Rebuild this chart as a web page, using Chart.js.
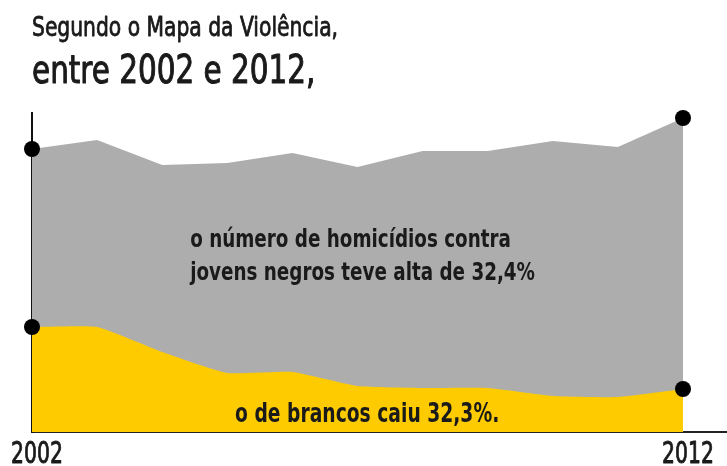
<!DOCTYPE html>
<html><head><meta charset="utf-8">
<script src="https://cdn.jsdelivr.net/npm/chart.js@4"></script>
<style>html,body{margin:0;padding:0;background:#fff}#wrap{width:727px;height:466px;position:relative}</style>
</head><body><div id="wrap"><canvas id="c"></canvas></div>
<script>
const years = [2002, 2003, 2004, 2005, 2006, 2007, 2008, 2009, 2010, 2011, 2012];
const negros = [283, 292, 267, 269, 279, 265, 281, 281, 291, 285, 314];
const brancos = [105, 105, 80, 59, 60, 46, 44, 44, 36, 35, 43];
const tickYears = [2002, 2012];
const titleLines = ['Segundo o Mapa da Violência,', 'entre 2002 e 2012,'];
const noteNegros = ['o número de homicídios contra', 'jovens negros teve alta de 32,4%'];
const noteBrancos = ['o de brancos caiu 32,3%.'];

const FONT = "'DejaVu Sans Condensed', 'DejaVu Sans', sans-serif";
const INK = '#1a1a1a';

const endDot = ctx => (ctx.dataIndex === 0 || ctx.dataIndex === years.length - 1) ? 8 : 0;

function drawText(ctx, str, x, y, size, weight, sx, align, thicken) {
  ctx.save();
  ctx.font = weight + ' ' + size + 'px ' + FONT;
  ctx.fillStyle = INK;
  ctx.strokeStyle = INK;
  ctx.textBaseline = 'alphabetic';
  ctx.textAlign = align || 'left';
  ctx.translate(x, y);
  ctx.scale(sx, 1);
  ctx.fillText(str, 0, 0);
  if (thicken) {
    ctx.lineWidth = thicken;
    ctx.lineJoin = 'round';
    ctx.strokeText(str, 0, 0);
  }
  ctx.restore();
}

const textPlugin = {
  id: 'texts',
  afterDatasetsDraw(chart) {
    const {ctx, chartArea, scales: {x, y}} = chart;
    // titles
    drawText(ctx, titleLines[0], chartArea.left, 36, 27, 'normal', 0.835, 'left', 0.8);
    drawText(ctx, titleLines[1], chartArea.left, 83, 39, 'normal', 0.84, 'left', 1.0);
    // notes inside the areas
    drawText(ctx, noteNegros[0], x.getPixelForValue(2004.43), y.getPixelForValue(185), 25, 'bold', 0.815);
    drawText(ctx, noteNegros[1], x.getPixelForValue(2004.43), y.getPixelForValue(152), 25, 'bold', 0.815);
    drawText(ctx, noteBrancos[0], x.getPixelForValue(2005.12), y.getPixelForValue(10), 26, 'bold', 0.80);
    // x tick labels at the axis positions
    tickYears.forEach(v => {
      drawText(ctx, String(v), x.getPixelForValue(v) + 5, chartArea.bottom + 31, 31, 'normal', 0.73, 'center', 0.9);
    });
  }
};

new Chart(document.getElementById('c'), {
  type: 'line',
  data: {
    datasets: [
      {
        label: 'Jovens negros',
        data: years.map((yr, i) => ({x: yr, y: negros[i]})),
        backgroundColor: '#adadad',
        borderWidth: 0,
        fill: 'origin',
        tension: 0,
        pointRadius: endDot,
        pointHoverRadius: endDot,
        pointBackgroundColor: '#000',
        pointBorderWidth: 0,
        clip: false,
        order: 1
      },
      {
        label: 'Jovens brancos',
        data: years.map((yr, i) => ({x: yr, y: brancos[i]})),
        backgroundColor: '#fdcb00',
        borderWidth: 0,
        fill: 'origin',
        tension: 0.15,
        pointRadius: endDot,
        pointHoverRadius: endDot,
        pointBackgroundColor: '#000',
        pointBorderWidth: 0,
        clip: false,
        order: 0
      }
    ]
  },
  options: {
    responsive: true,
    maintainAspectRatio: false,
    animation: false,
    events: [],
    layout: {autoPadding: false, padding: {left: 32, right: 0, top: 113, bottom: 34}},
    scales: {
      x: {
        type: 'linear',
        min: 2002,
        max: 2012.676,
        afterBuildTicks: s => { s.ticks = tickYears.map(v => ({value: v})); },
        grid: {display: false, drawTicks: false},
        border: {display: true, color: '#222', width: 2},
        ticks: {display: false}
      },
      y: {
        min: 0,
        max: 319,
        grid: {display: false, drawTicks: false},
        border: {display: true, color: '#111', width: 2},
        ticks: {display: false}
      }
    },
    plugins: {
      legend: {display: false},
      tooltip: {enabled: false},
      title: {display: false},
      subtitle: {display: false}
    }
  },
  plugins: [textPlugin]
});
</script>
</body></html>
